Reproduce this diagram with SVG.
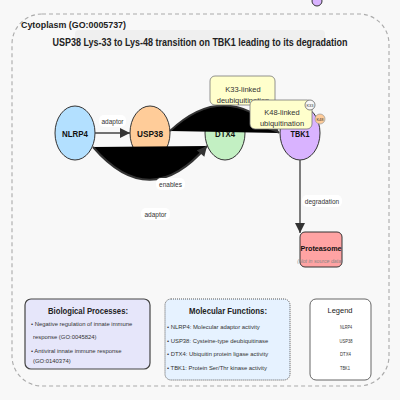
<svg xmlns="http://www.w3.org/2000/svg" width="400" height="400" viewBox="0 0 400 400">
<style>
text{font-family:"Liberation Sans",Arial,sans-serif;}
.nl{font-weight:bold;font-size:9px;fill:#111;text-anchor:middle;}
.el{font-size:6.5px;fill:#333;text-anchor:middle;}
.lbg{fill:#fff;stroke:none;}
.node{stroke:#333;stroke-width:1;}
.ub{fill:#ffffcc;stroke:#777;stroke-width:0.8;}
.ut{font-size:7.5px;fill:#333;text-anchor:middle;}
.item{font-size:5.9px;fill:#333;}
.bt{font-weight:bold;font-size:8.5px;fill:#222;text-anchor:middle;}
.leg{font-size:5.5px;fill:#333;}
</style>
<defs>
<marker id="arr" viewBox="0 0 10 10" refX="10" refY="5" markerUnits="userSpaceOnUse" markerWidth="11" markerHeight="10" orient="auto">
<path d="M0,0 L10,5 L0,10 z" fill="#333"/>
</marker>
</defs>
<rect x="0" y="0" width="400" height="400" fill="#f8f8f8"/>
<g id="cytoplasm">
<rect x="12" y="14" width="377" height="372" rx="30" fill="none" stroke="#aaa" stroke-width="1.1" stroke-dasharray="4,3"/>
<text x="21" y="28" font-weight="bold" font-size="9.5" fill="#222" textLength="105" lengthAdjust="spacingAndGlyphs">Cytoplasm (GO:0005737)</text>
<rect x="75" y="30" width="250" height="20" rx="4" fill="#efefef"/>
<text x="200" y="45.5" font-weight="bold" font-size="10" fill="#222" text-anchor="middle" textLength="295" lengthAdjust="spacingAndGlyphs">USP38 Lys-33 to Lys-48 transition on TBK1 leading to its degradation</text>
</g>
<g id="top-circle"><circle cx="317" cy="1" r="5" fill="#d9b3ff" stroke="#333" stroke-width="1"/></g>
<g id="NLRP4"><ellipse class="node" cx="75" cy="133" rx="20" ry="27" fill="#b3e0ff"/><text class="nl" x="75" y="136.5" textLength="26" lengthAdjust="spacingAndGlyphs">NLRP4</text></g>
<g id="USP38"><ellipse class="node" cx="150" cy="133" rx="20" ry="27" fill="#ffcc99"/><text class="nl" x="150" y="136.5" textLength="26" lengthAdjust="spacingAndGlyphs">USP38</text></g>
<g id="DTX4"><ellipse class="node" cx="225" cy="133" rx="20" ry="27" fill="#c3f0c3"/><text class="nl" x="225" y="137" textLength="20" lengthAdjust="spacingAndGlyphs">DTX4</text></g>
<g id="TBK1"><ellipse class="node" cx="300" cy="133" rx="20" ry="27" fill="#d9b3ff"/><text class="nl" x="300" y="137" textLength="19" lengthAdjust="spacingAndGlyphs">TBK1</text></g>
<g id="Proteasome">
<rect x="300" y="232" width="42" height="35" rx="5" fill="#ffa3a3" stroke="#333" stroke-width="1"/>
<text x="321" y="251" font-weight="bold" font-size="7.5" fill="#111" text-anchor="middle" textLength="41" lengthAdjust="spacingAndGlyphs">Proteasome</text>
<text x="320" y="263" font-style="italic" font-size="5.2" fill="#888" text-anchor="middle">(Not in source data)</text>
</g>
<g id="connectors">
<path d="M93,147 Q150,213 207,146" fill="#000" stroke="#333" stroke-width="2" marker-end="url(#arr)"/>
<path d="M170,131 Q225,79 279,133" fill="#000" stroke="#333" stroke-width="2" marker-end="url(#arr)"/>
<line x1="95" y1="133" x2="130" y2="133" stroke="#444" stroke-width="1.5" marker-end="url(#arr)"/>
<line x1="300" y1="160" x2="300" y2="233" stroke="#555" stroke-width="1.5" marker-end="url(#arr)"/>
<rect class="lbg" x="99" y="115" width="27" height="12" rx="5"/>
<text class="el" x="112.5" y="123.5">adaptor</text>
<rect class="lbg" x="156" y="178" width="29" height="12" rx="5"/>
<text class="el" x="170.5" y="186.5">enables</text>
<rect class="lbg" x="141" y="208" width="29" height="12" rx="5"/>
<text class="el" x="155.5" y="216.5">adaptor</text>
<rect class="lbg" x="302" y="195" width="40" height="12" rx="5"/>
<text class="el" x="322" y="203.5">degradation</text>
</g>
<g id="K33-label">
<rect class="ub" x="210" y="76" width="65" height="29" rx="5"/>
<text class="ut" x="243" y="92">K33-linked</text>
<text class="ut" x="243" y="103">deubiquitination</text>
</g>
<g id="K48-label">
<rect class="ub" x="250" y="100" width="62" height="29" rx="5"/>
<text class="ut" x="282" y="115" font-size="7">K48-linked</text>
<text class="ut" x="282" y="126" font-size="7">ubiquitination</text>
</g>
<g id="K33-mark"><circle cx="310" cy="105" r="5" fill="#f8f8f8" stroke="#555" stroke-width="0.7"/><text x="310" y="106.5" font-size="4" fill="#333" text-anchor="middle">K33</text></g>
<g id="K48-mark"><circle cx="320" cy="119" r="5" fill="#ffcc99" stroke="#999" stroke-width="0.7"/><text x="320" y="120.5" font-size="4" fill="#333" text-anchor="middle">K48</text></g>
<g id="bio-processes">
<rect x="25" y="299" width="125" height="70" rx="6" fill="#e6e6fa" stroke="#444" stroke-width="1.2"/>
<text class="bt" x="88" y="314" textLength="80" lengthAdjust="spacingAndGlyphs">Biological Processes:</text>
<text class="item" x="31" y="326">• Negative regulation of innate immune</text>
<text class="item" x="33" y="338.5">response (GO:0045824)</text>
<text class="item" x="31" y="352.5">• Antiviral innate immune response</text>
<text class="item" x="33" y="363">(GO:0140374)</text>
</g>
<g id="mol-functions">
<rect x="165" y="299" width="125" height="81" rx="6" fill="#e6f2ff" stroke="#555" stroke-width="1" stroke-dasharray="1,1"/>
<text class="bt" x="228" y="314" textLength="78" lengthAdjust="spacingAndGlyphs">Molecular Functions:</text>
<text class="item" x="167" y="329">• NLRP4: Molecular adaptor activity</text>
<text class="item" x="167" y="342.5">• USP38: Cysteine-type deubiquitinase</text>
<text class="item" x="167" y="356">• DTX4: Ubiquitin protein ligase activity</text>
<text class="item" x="167" y="369.5">• TBK1: Protein Ser/Thr kinase activity</text>
</g>
<g id="legend">
<rect x="310" y="299" width="61" height="81" rx="6" fill="#fff" stroke="#666" stroke-width="1"/>
<text x="340" y="313" font-size="7.5" fill="#222" text-anchor="middle">Legend</text>
<text class="leg" x="340" y="329" textLength="12" lengthAdjust="spacingAndGlyphs">NLRP4</text>
<text class="leg" x="339.5" y="343" textLength="13" lengthAdjust="spacingAndGlyphs">USP38</text>
<text class="leg" x="340" y="356" textLength="11" lengthAdjust="spacingAndGlyphs">DTX4</text>
<text class="leg" x="340" y="369.5" textLength="10" lengthAdjust="spacingAndGlyphs">TBK1</text>
</g>
</svg>
